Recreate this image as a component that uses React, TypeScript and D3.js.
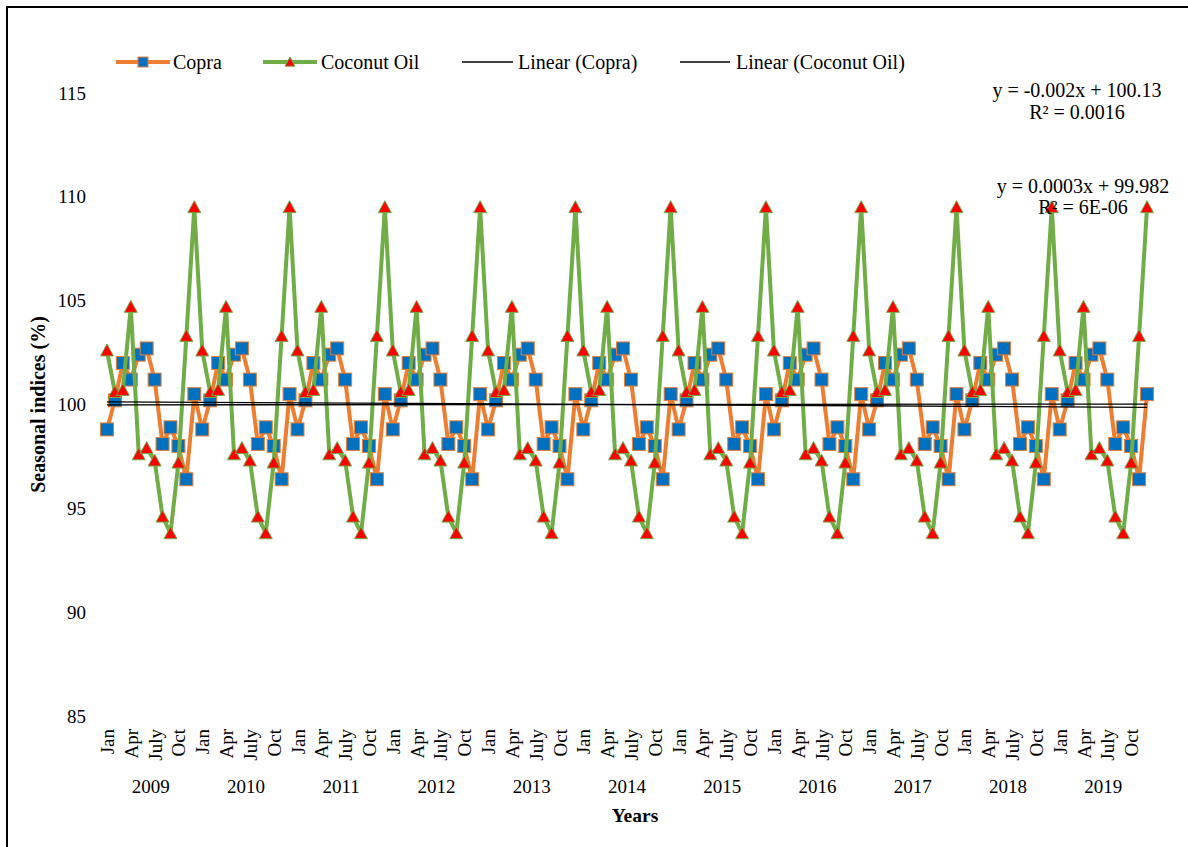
import React from 'react'
import * as d3 from 'd3'

/* page size, and the plot box */
const width = 1188
const height = 847
const margin = { top: 93, right: 37, bottom: 131, left: 103 }
const font = '"Liberation Serif", "Times New Roman", serif'

/* seasonal indices (%) by month, same pattern every year */
const years = [2009, 2010, 2011, 2012, 2013, 2014, 2015, 2016, 2017, 2018, 2019]
const months = ['Jan', 'Feb', 'Mar', 'Apr', 'May', 'June', 'July', 'Aug', 'Sep', 'Oct', 'Nov', 'Dec']
const copraIndex = [98.8, 100.2, 102.0, 101.2, 102.4, 102.7, 101.2, 98.1, 98.9, 98.0, 96.4, 100.5]
const coconutOilIndex = [102.6, 100.6, 100.7, 104.7, 97.6, 97.9, 97.3, 94.6, 93.8, 97.2, 103.3, 109.5]

/* linear trend lines as printed on the chart */
const trendNames = ['Linear (Copra)', 'Linear (Coconut Oil)']
const trendSlopes = [-0.002, 0.0003]
const trendIntercepts = [100.13, 99.982]
const trendEquations = ['y = -0.002x + 100.13', 'y = 0.0003x + 99.982']
const trendR2 = ['R² = 0.0016', 'R² = 6E-06']

const yTicks = [85, 90, 95, 100, 105, 110, 115]

const orange = '#ED7D31'
const green = '#70AD47'
const blue = '#0070C0'
const red = '#FF0000'

const tri = (cx: number, cy: number, s: number) =>
    `${cx},${cy - s * 0.5} ${cx - s * 0.5},${cy + s * 0.42} ${cx + s * 0.5},${cy + s * 0.42}`

export default function App() {
    /* one point per month over all years */
    const points = years.flatMap((yr, yi) =>
        months.map((m, mi) => ({
            i: yi * 12 + mi,
            year: yr,
            month: m,
            copra: copraIndex[mi],
            oil: coconutOilIndex[mi],
        }))
    )

    const x = d3
        .scalePoint<number>()
        .domain(points.map((d) => d.i))
        .range([margin.left, width - margin.right])
        .padding(0.5)
    const y = d3
        .scaleLinear()
        .domain([85, 115])
        .range([height - margin.bottom, margin.top])

    const copraLine = d3
        .line<(typeof points)[0]>()
        .x((d) => x(d.i)!)
        .y((d) => y(d.copra))
    const oilLine = d3
        .line<(typeof points)[0]>()
        .x((d) => x(d.i)!)
        .y((d) => y(d.oil))

    const first = points[0].i
    const last = points[points.length - 1].i

    return (
        <svg
            width={width}
            height={height}
            style={{ position: 'absolute', left: 0, top: 0, background: '#fff' }}
            fontFamily={font}
        >
            {/* chart frame */}
            <rect x={7} y={7} width={1200} height={870} fill="#fff" stroke="#000" strokeWidth={2} />

            {/* y tick labels */}
            {yTicks.map((t) => (
                <text key={t} x={86} y={y(t)} fontSize={19} textAnchor="end" dominantBaseline="central">
                    {t}
                </text>
            ))}

            {/* month labels, every third month */}
            {points
                .filter((d) => d.i % 3 === 0)
                .map((d) => (
                    <text
                        key={'m' + d.i}
                        transform={`translate(${x(d.i)! + 7}, 729) rotate(-90)`}
                        fontSize={19}
                        textAnchor="end"
                    >
                        {d.month}
                    </text>
                ))}
            {/* year labels */}
            {years.map((yr, yi) => (
                <text
                    key={yr}
                    x={(x(yi * 12 + 5)! + x(yi * 12 + 6)!) / 2}
                    y={793}
                    fontSize={19}
                    textAnchor="middle"
                >
                    {yr}
                </text>
            ))}

            {/* axis titles */}
            <text x={635} y={822} fontSize={19.5} fontWeight="bold" textAnchor="middle">
                Years
            </text>
            <text
                transform={`translate(45, ${y(100)}) rotate(-90)`}
                fontSize={20}
                fontWeight="bold"
                textAnchor="middle"
            >
                Seasonal indices (%)
            </text>

            {/* copra */}
            <path d={copraLine(points)!} fill="none" stroke={orange} strokeWidth={4} strokeLinejoin="round" />
            {points.map((d) => (
                <rect
                    key={'c' + d.i}
                    x={x(d.i)! - 6.5}
                    y={y(d.copra) - 6.5}
                    width={13}
                    height={13}
                    fill={blue}
                    stroke={orange}
                    strokeWidth={1}
                />
            ))}

            {/* coconut oil */}
            <path d={oilLine(points)!} fill="none" stroke={green} strokeWidth={4} strokeLinejoin="round" />
            {points.map((d) => (
                <polygon key={'o' + d.i} points={tri(x(d.i)!, y(d.oil), 13)} fill={red} stroke={green} strokeWidth={1} />
            ))}

            {/* trend lines, x runs 1..132 */}
            {trendSlopes.map((s, k) => (
                <line
                    key={trendNames[k]}
                    x1={x(first)}
                    y1={y(s * (first + 1) + trendIntercepts[k])}
                    x2={x(last)}
                    y2={y(s * (last + 1) + trendIntercepts[k])}
                    stroke="#000"
                    strokeWidth={1.3}
                />
            ))}

            {/* trend equations */}
            <text x={1077} y={97} fontSize={20} textAnchor="middle">{trendEquations[0]}</text>
            <text x={1077} y={119} fontSize={20} textAnchor="middle">{trendR2[0]}</text>
            <text x={1083} y={193} fontSize={20} textAnchor="middle">{trendEquations[1]}</text>
            <text x={1083} y={214} fontSize={20} textAnchor="middle">{trendR2[1]}</text>

            {/* legend */}
            <g fontSize={20}>
                <line x1={116} x2={170} y1={62} y2={62} stroke={orange} strokeWidth={4} />
                <rect x={138} y={57} width={10} height={10} fill={blue} stroke={orange} strokeWidth={1} />
                <text x={173} y={68.5}>Copra</text>

                <line x1={263} x2={317} y1={62} y2={62} stroke={green} strokeWidth={4} />
                <polygon points={tri(290, 62, 10)} fill={red} stroke={green} strokeWidth={1} />
                <text x={321} y={68.5}>Coconut Oil</text>

                <line x1={462} x2={513} y1={62} y2={62} stroke="#000" strokeWidth={1.3} />
                <text x={518} y={68.5}>{trendNames[0]}</text>

                <line x1={680} x2={730} y1={62} y2={62} stroke="#000" strokeWidth={1.3} />
                <text x={736} y={68.5}>{trendNames[1]}</text>
            </g>
        </svg>
    )
}
